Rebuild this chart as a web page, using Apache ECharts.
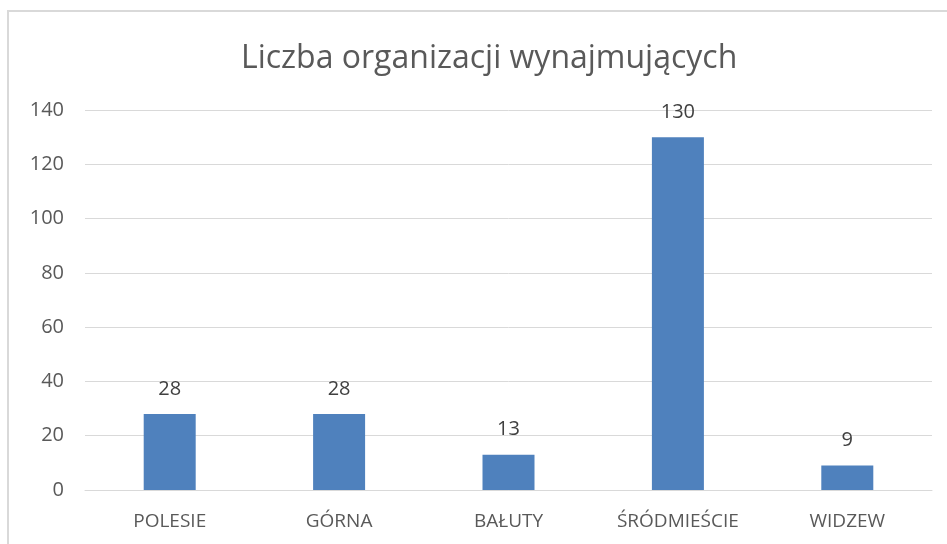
<!DOCTYPE html>
<html><head><meta charset="utf-8">
<script src="https://cdn.jsdelivr.net/npm/echarts@6/dist/echarts.min.js"></script>
<style>html,body{margin:0;padding:0;background:#fff}#c{width:947px;height:544px}</style>
</head><body><div id="c"></div>
<script>
const categories = ['POLESIE', 'GÓRNA', 'BAŁUTY', 'ŚRÓDMIEŚCIE', 'WIDZEW'];
const values = [28, 28, 13, 130, 9];
const yTicks = [0, 20, 40, 60, 80, 100, 120, 140];
const titleText = 'Liczba organizacji wynajmujących';

const chart = echarts.init(document.getElementById('c'));
chart.setOption({
  backgroundColor: '#ffffff',
  animation: false,
  title: {
    text: titleText, left: 236, top: 38,
    textStyle: { fontFamily: 'Open Sans', fontSize: 32, fontWeight: 'normal', color: '#595959' }
  },
  graphic: [{
    type: 'rect', shape: { x: 8, y: 11, width: 950, height: 560 },
    style: { fill: 'none', stroke: '#d9d9d9', lineWidth: 2 }, silent: true
  }],
  grid: { left: 85, right: 15, top: 110, bottom: 54, containLabel: false },
  xAxis: {
    type: 'category', data: categories,
    axisLine: { show: true, lineStyle: { color: '#d9d9d9', width: 1 } },
    axisTick: { show: false },
    axisLabel: { color: '#595959', fontFamily: 'Open Sans', fontSize: 19, margin: 22 }
  },
  yAxis: {
    type: 'value', min: yTicks[0], max: yTicks[yTicks.length - 1], interval: 20,
    axisLine: { show: false }, axisTick: { show: false },
    splitLine: { lineStyle: { color: '#d9d9d9', width: 1 } },
    axisLabel: { color: '#595959', fontFamily: 'Open Sans', fontSize: 20, margin: 21 }
  },
  series: [{
    type: 'bar', data: values, barWidth: 52,
    itemStyle: { color: '#4f81bd' },
    label: { show: true, position: 'top', distance: 15, color: '#404040', fontFamily: 'Open Sans', fontSize: 20 }
  }]
});
</script></body></html>
